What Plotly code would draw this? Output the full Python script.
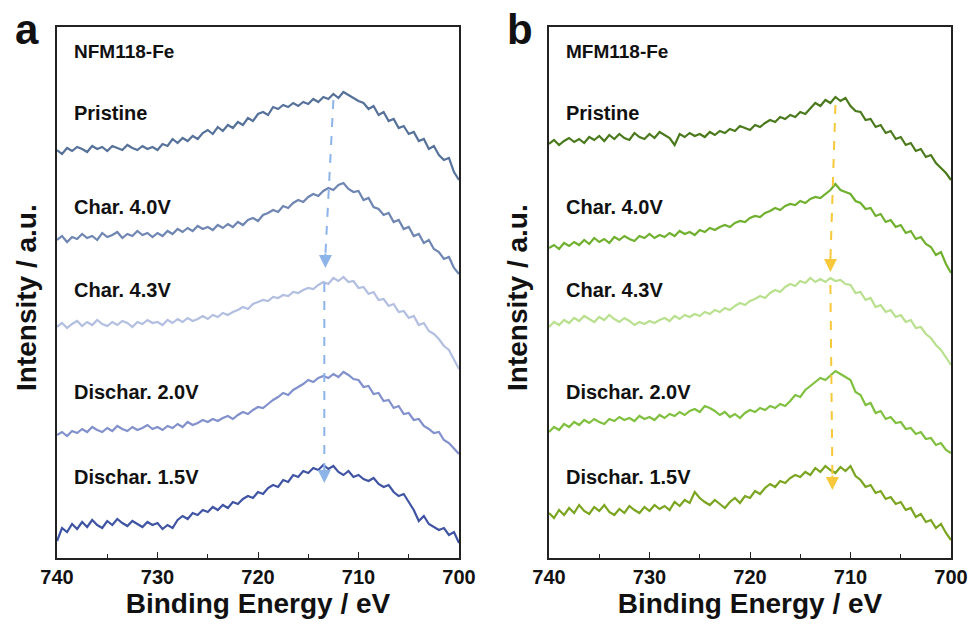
import plotly.graph_objects as go

# Binding energy grid (eV), 740 -> 700 in 0.5 eV steps
energy = [740 - 0.5 * i for i in range(81)]

labels = ["Pristine", "Char. 4.0V", "Char. 4.3V", "Dischar. 2.0V", "Dischar. 1.5V"]

# Panel a: NFM118-Fe (stacked intensities, a.u.)
a_pristine = [408,404,410,407,411,409,406,412,409,411,407,412,410,408,413,410,408,412,409,411,
              408,414,412,419,415,420,417,422,419,425,428,424,431,427,433,430,436,433,440,437,
              444,446,443,451,449,453,451,455,452,456,454,459,456,461,459,464,460,466,463,460,
              457,455,449,452,443,446,437,439,430,432,424,426,417,419,409,412,403,398,400,386,378]
a_char40 = [318,322,316,321,319,324,320,322,318,325,321,323,326,320,324,322,327,323,325,321,
            325,322,327,324,329,326,330,327,332,329,331,328,333,330,334,331,336,333,338,340,
            337,343,345,348,346,352,350,355,358,356,361,364,362,367,370,368,373,375,369,366,
            367,358,360,351,349,343,345,336,338,329,331,322,324,315,318,309,306,299,301,290,284]
a_char43 = [231,235,230,234,237,232,236,233,238,234,232,236,233,237,235,231,236,234,238,235,
            236,233,238,235,239,236,240,237,239,242,239,243,241,245,243,246,248,251,249,254,
            256,258,257,261,260,263,262,266,265,268,270,269,273,276,274,280,277,281,276,277,
            270,271,264,266,258,259,252,254,246,247,240,242,233,235,227,224,219,212,208,199,189]
a_dis20 = [123,126,122,127,125,129,126,131,128,126,130,127,132,129,127,131,128,130,133,129,
           131,128,132,130,134,131,136,133,135,138,136,139,137,140,142,139,143,146,144,148,
           151,150,154,158,161,165,163,168,171,174,178,176,180,182,180,184,181,186,183,179,
           178,171,172,164,165,157,158,150,152,144,145,138,139,132,129,125,126,118,115,110,104]
a_dis15 = [17,30,26,34,29,36,31,38,33,30,37,33,39,35,32,37,34,31,36,33,
           35,29,33,30,38,42,39,45,43,48,46,51,48,53,50,56,54,59,62,60,
           66,64,70,73,71,78,76,83,81,87,85,90,88,93,89,92,86,83,87,81,
           83,79,77,80,74,71,73,66,62,64,56,48,37,42,34,31,28,30,23,26,15]

# Panel b: MFM118-Fe
b_pristine = [414,418,413,417,420,416,419,415,421,418,422,417,423,419,424,420,418,425,421,419,
              424,420,426,423,420,413,424,421,425,422,424,421,426,423,427,425,429,427,432,430,
              428,433,431,435,438,436,441,439,443,441,446,444,449,455,452,458,455,461,457,460,
              452,447,446,438,439,431,433,425,427,419,421,413,415,407,409,401,403,395,390,385,378]
b_char40 = [310,313,309,315,312,316,313,318,314,320,316,319,315,321,318,322,319,317,322,320,
            324,320,323,321,325,322,327,324,326,323,328,326,330,328,331,333,331,335,337,336,
            340,342,341,345,347,350,348,352,354,353,357,355,359,361,360,364,368,374,368,366,
            364,357,355,349,350,342,344,336,338,331,333,325,327,319,321,314,311,303,306,294,285]
b_char43 = [231,236,233,238,235,240,237,242,239,236,241,238,243,239,236,240,237,233,236,234,
            237,235,238,240,237,242,239,243,241,244,242,246,244,248,246,250,248,252,255,253,
            257,259,262,260,265,268,266,271,274,272,277,275,280,276,279,276,280,277,278,274,
            273,265,266,258,260,251,253,246,248,241,243,236,238,230,231,224,220,213,208,200,193]
b_dis20 = [126,131,128,134,131,136,133,138,135,139,136,134,139,137,141,138,140,137,142,139,
           141,138,143,140,144,142,146,143,147,149,146,152,150,147,143,146,141,144,140,145,
           148,146,150,148,152,150,154,152,157,163,161,168,172,176,180,178,183,187,184,181,
           178,166,163,153,155,145,147,139,141,135,136,129,130,124,126,119,120,113,115,108,105]
b_dis15 = [45,40,48,43,50,45,53,47,44,51,47,53,46,43,49,45,52,48,45,51,
           47,53,49,52,48,56,52,58,55,66,60,56,53,58,54,50,56,60,55,62,
           60,67,64,70,74,71,77,75,80,83,81,86,83,90,86,92,88,85,91,87,
           92,82,78,71,73,65,67,59,61,54,56,48,50,41,44,36,38,30,34,25,18]

a_colors = ["#56729a", "#6f86b3", "#b3bfe0", "#8291cc", "#4054a4"]
b_colors = ["#4a7a1c", "#6fb02e", "#b9e08e", "#80c040", "#7aa520"]

# Label heights (a.u.) for curve names
label_y = [445, 351, 268, 166, 81]

# Dashed guide arrows: (x_start, y_start, x_end, y_end)
a_arrows = [(712.5, 458, 713.3, 290), (713.4, 275, 713.4, 75)]
b_arrows = [(711.5, 453, 712.0, 286), (712.0, 273, 711.8, 68)]
a_arrow_color = "#8db4e8"
b_arrow_color = "#f6c83a"

FONT = "Liberation Sans, Arial, sans-serif"

fig = go.Figure()
panels = [
    ("x", "y", [a_pristine, a_char40, a_char43, a_dis20, a_dis15], a_colors),
    ("x2", "y2", [b_pristine, b_char40, b_char43, b_dis20, b_dis15], b_colors),
]
for xa, ya, series, cols in panels:
    for lab, vals, c in zip(labels, series, cols):
        fig.add_trace(go.Scatter(x=energy, y=vals, mode="lines", name=lab,
                                 line=dict(color=c, width=2.2), xaxis=xa, yaxis=ya,
                                 showlegend=False, hoverinfo="skip"))

axis_common = dict(range=[740, 700], showline=True, mirror=True, linecolor="#222",
                   linewidth=1.5, ticks="inside", ticklen=6, tickwidth=1.2, tickcolor="#222",
                   dtick=10, tick0=700, showgrid=False, zeroline=False, automargin=False,
                   tickfont=dict(family=FONT, size=20, color="#111", weight="bold"),
                   minor=dict(ticks="inside", ticklen=4, dtick=5, tickcolor="#222", tickwidth=1),
                   title=dict(text="Binding Energy / eV", standoff=4,
                              font=dict(family=FONT, size=28, color="#111", weight="bold")))
yaxis_common = dict(range=[0, 531], showline=True, mirror=True, linecolor="#222",
                    linewidth=1.5, showticklabels=False, ticks="", showgrid=False,
                    zeroline=False, automargin=False, domain=[1 - 558 / 626, 1 - 27 / 626])

fig.update_layout(
    width=973, height=626, margin=dict(l=0, r=0, t=0, b=0),
    plot_bgcolor="white", paper_bgcolor="white",
    xaxis=dict(domain=[57 / 973, 459 / 973], anchor="y", **axis_common),
    xaxis2=dict(domain=[549 / 973, 951 / 973], anchor="y2", **axis_common),
    yaxis=dict(anchor="x", **yaxis_common),
    yaxis2=dict(anchor="x2", **yaxis_common),
)

annotations = []
shapes = []
for xa, ya, title, letter, arrows, acol, ytx, letx in [
    ("x", "y", "NFM118-Fe", "a", a_arrows, a_arrow_color, 26, 27),
    ("x2", "y2", "MFM118-Fe", "b", b_arrows, b_arrow_color, 517, 520),
]:
    for lab, ly in zip(labels, label_y):
        annotations.append(dict(text=lab, x=738.5, y=ly, xref=xa, yref=ya, xanchor="left",
                                yanchor="middle", showarrow=False,
                                font=dict(family=FONT, size=20, color="#111", weight="bold")))
    annotations.append(dict(text=title, x=738.5, y=506, xref=xa, yref=ya, xanchor="left",
                            yanchor="middle", showarrow=False,
                            font=dict(family=FONT, size=19, color="#111", weight="bold")))
    annotations.append(dict(text=letter, x=letx / 973, y=1 - 30 / 626, xref="paper", yref="paper",
                            xanchor="center", yanchor="middle", showarrow=False,
                            font=dict(family=FONT, size=42, color="#111", weight="bold")))
    annotations.append(dict(text="Intensity / a.u.", x=ytx / 973, y=1 - 298 / 626,
                            xref="paper", yref="paper", xanchor="center", yanchor="middle",
                            textangle=-90, showarrow=False,
                            font=dict(family=FONT, size=28, color="#111", weight="bold")))
    for (x0, y0, x1, y1) in arrows:
        shapes.append(dict(type="line", xref=xa, yref=ya, x0=x0, y0=y0, x1=x1, y1=y1 + 12,
                           line=dict(color=acol, width=2, dash="dash")))
        annotations.append(dict(x=x1, y=y1, xref=xa, yref=ya, ax=x1 + (x0 - x1) * 0.02,
                                ay=y1 + 16, axref=xa, ayref=ya, showarrow=True, text="",
                                arrowhead=2, arrowsize=1.3, arrowwidth=2, arrowcolor=acol))

fig.update_layout(annotations=annotations, shapes=shapes)
fig.write_html("out.html")
